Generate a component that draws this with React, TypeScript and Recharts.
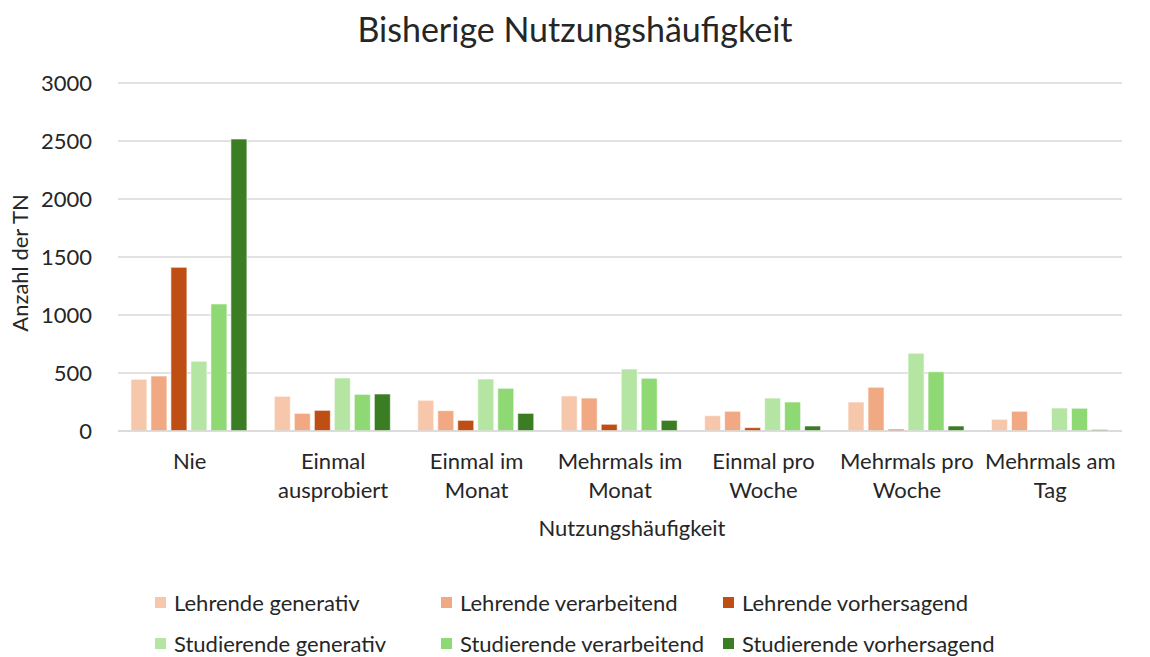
import { BarChart, Bar, XAxis, YAxis, CartesianGrid } from 'recharts';

const categories = [
  'Nie',
  'Einmal ausprobiert',
  'Einmal im Monat',
  'Mehrmals im Monat',
  'Einmal pro Woche',
  'Mehrmals pro Woche',
  'Mehrmals am Tag',
];

const lehrendeGenerativ = [446, 299, 265, 302, 132, 250, 101];
const lehrendeVerarbeitend = [474, 152, 175, 284, 170, 377, 170];
const lehrendeVorhersagend = [1411, 178, 92, 58, 29, 15, 0];
const studierendeGenerativ = [601, 457, 448, 534, 284, 670, 198];
const studierendeVerarbeitend = [1095, 316, 368, 454, 250, 511, 196];
const studierendeVorhersagend = [2517, 319, 152, 92, 43, 43, 12];

const yTicks = [0, 500, 1000, 1500, 2000, 2500, 3000];

const series = [
  { key: 'lg', name: 'Lehrende generativ', values: lehrendeGenerativ, color: '#F7C7AC' },
  { key: 'lv', name: 'Lehrende verarbeitend', values: lehrendeVerarbeitend, color: '#F1A983' },
  { key: 'lvo', name: 'Lehrende vorhersagend', values: lehrendeVorhersagend, color: '#BF4E14' },
  { key: 'sg', name: 'Studierende generativ', values: studierendeGenerativ, color: '#B4E5A2' },
  { key: 'sv', name: 'Studierende verarbeitend', values: studierendeVerarbeitend, color: '#8ED973' },
  { key: 'svo', name: 'Studierende vorhersagend', values: studierendeVorhersagend, color: '#3B7D23' },
];

const data = categories.map((c, i) => {
  const row: Record<string, string | number> = { name: c };
  series.forEach((s) => (row[s.key] = s.values[i]));
  return row;
});

const FONT = 'Lato, "Open Sans", sans-serif';
const TXT = '#262626';

// letztes Wort in die zweite Zeile
function CatTick(props: any) {
  const { x, y, payload } = props;
  const words = String(payload.value).split(' ');
  const lines = words.length > 1 ? [words.slice(0, -1).join(' '), words[words.length - 1]] : words;
  return (
    <g transform={`translate(${x},${y})`}>
      {lines.map((l, i) => (
        <text key={i} x={0} y={30 + i * 29} textAnchor="middle" fill={TXT} fontSize={22} fontFamily={FONT}>
          {l}
        </text>
      ))}
    </g>
  );
}

function LegendBox() {
  return (
    <div
      style={{
        position: 'absolute',
        top: 591,
        left: 155,
        display: 'grid',
        gridTemplateColumns: '286px 282px 300px',
        rowGap: 19,
        fontFamily: FONT,
        fontSize: 22,
        color: TXT,
      }}
    >
      {series.map((s) => (
        <div key={s.key} style={{ display: 'flex', alignItems: 'center', height: 22, whiteSpace: 'nowrap' }}>
          <span style={{ width: 11, height: 11, background: s.color, marginRight: 8, display: 'inline-block' }} />
          {s.name}
        </div>
      ))}
    </div>
  );
}

export default function App() {
  return (
    <div style={{ position: 'absolute', left: 0, top: 0, width: 1150, height: 657, background: '#fff' }}>
      <div style={{ position: 'absolute', top: 8, width: 1150, textAlign: 'center', fontFamily: FONT, fontSize: 34, color: TXT }}>
        Bisherige Nutzungshäufigkeit
      </div>
      <BarChart
        width={1150}
        height={657}
        data={data}
        margin={{ top: 83, right: 28, bottom: 142, left: 0 }}
        barCategoryGap="9%"
        barGap={4}
      >
        <CartesianGrid vertical={false} stroke="#d9d9d9" strokeWidth={1.5} />
        <XAxis
          dataKey="name"
          tick={<CatTick />}
          tickLine={false}
          axisLine={{ stroke: '#d9d9d9', strokeWidth: 1.5 }}
          height={84}
          interval={0}
          label={{ value: 'Nutzungshäufigkeit', position: 'bottom', offset: 5, dx: 12, fill: TXT, fontSize: 22, fontFamily: FONT }}
        />
        <YAxis
          width={118}
          domain={[0, 3000]}
          ticks={yTicks}
          tickLine={false}
          axisLine={false}
          tickMargin={20}
          tick={{ fill: TXT, fontSize: 22, fontFamily: FONT }}
          label={{ value: 'Anzahl der TN', angle: -90, position: 'center', dx: -39, dy: 6, fill: TXT, fontSize: 22, fontFamily: FONT }}
        />
        {series.map((s) => (
          <Bar
            key={s.key}
            dataKey={s.key}
            name={s.name}
            fill={s.color}
            stroke="#ffffff"
            strokeOpacity={0.6}
            strokeWidth={1}
            isAnimationActive={false}
          />
        ))}
      </BarChart>
      <LegendBox />
    </div>
  );
}
